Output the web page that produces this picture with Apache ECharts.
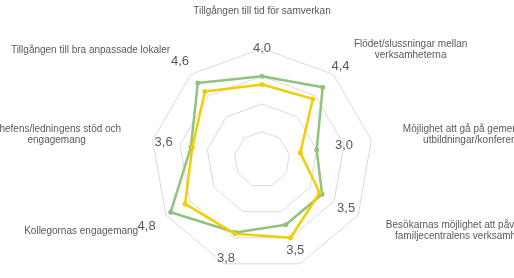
<!DOCTYPE html>
<html>
<head>
<meta charset="utf-8">
<script src="https://cdn.jsdelivr.net/npm/echarts@6/dist/echarts.min.js"></script>
<style>
	html, body { margin: 0; padding: 0; background: #fff; }
	#radarChart { width: 514px; height: 278px; }
</style>
</head>
<body>
<div id="radarChart"></div>
<script>
// clockwise from the top, like the original
var categories = [
	'Tillgången till tid för samverkan',
	'Flödet/slussningar mellan\nverksamheterna',
	'Möjlighet att gå på gemensamma\nutbildningar/konferenser',
	'Besökarnas möjlighet att påverka\nfamiljecentralens verksamhet',
	'',
	'',
	'Kollegornas engagemang',
	'Chefens/ledningens stöd och\nengagemang',
	'Tillgången till bra anpassade lokaler'
];
var greenValues = [4.0, 4.4, 3.0, 3.5, 3.5, 3.8, 4.8, 3.6, 4.6];
var yellowValues = [3.7, 3.85, 2.4, 3.4, 4.0, 3.85, 4.2, 3.55, 4.2];
var scaleMin = 1;
var scaleMax = 5;

// echarts goes counterclockwise, so flip the order after the first
function cw(arr) {
	return [arr[0]].concat(arr.slice(1).reverse());
}

var center = [262, 159.5];
var unit = 27.75;

var radarChart = echarts.init(document.getElementById('radarChart'));

var option = {
	animation: false,
	textStyle: { fontFamily: 'Liberation Sans, Arial, sans-serif' },
	radar: [
		{
			center: center,
			radius: unit * (scaleMax - scaleMin),
			startAngle: 90,
			splitNumber: 4,
			shape: 'polygon',
			nameGap: 32,
			indicator: cw(categories).map(function (c) {
				return { name: c, min: scaleMin, max: scaleMax };
			}),
			axisName: {
				color: '#595959',
				fontSize: 10,
				lineHeight: 11,
				formatter: function (name) {
					if (!name) return '';
					return name.split('\n').map(function (l) {
						return '{a|' + l + '}';
					}).join('\n');
				},
				rich: {
					a: { align: 'center', color: '#595959', fontSize: 10, lineHeight: 11 }
				}
			},
			axisLine: { show: false },
			axisTick: { show: false },
			axisLabel: { show: false },
			splitArea: { show: false },
			splitLine: { lineStyle: { color: '#d9d9d9', width: 1 } }
		},
		{
			// only used to place the value labels outside the green points
			center: center,
			radius: unit * 6,
			startAngle: 90,
			shape: 'polygon',
			indicator: cw(categories).map(function () {
				return { name: '', min: 0, max: 6 };
			}),
			axisName: { show: false },
			axisLine: { show: false },
			axisTick: { show: false },
			axisLabel: { show: false },
			splitArea: { show: false },
			splitLine: { show: false }
		}
	],
	series: [
		{
			type: 'radar',
			radarIndex: 0,
			symbol: 'circle',
			symbolSize: 5,
			data: [
				{
					value: cw(greenValues),
					lineStyle: { color: '#8fc47e', width: 2.5 },
					itemStyle: { color: '#8fc47e' }
				},
				{
					value: cw(yellowValues),
					lineStyle: { color: '#f2cd00', width: 2.5 },
					itemStyle: { color: '#f2cd00' }
				}
			]
		},
		{
			type: 'radar',
			radarIndex: 1,
			symbol: 'circle',
			symbolSize: 1,
			silent: true,
			data: [
				{
					value: cw(greenValues),
					lineStyle: { color: 'rgba(0,0,0,0)', width: 0 },
					itemStyle: { color: 'rgba(0,0,0,0)', borderWidth: 0 },
					label: {
						show: true,
						position: 'inside',
						color: '#595959',
						fontSize: 13,
						formatter: function (p) {
							return p.value.toFixed(1).replace('.', ',');
						}
					}
				}
			]
		}
	]
};

radarChart.setOption(option);
</script>
</body>
</html>
